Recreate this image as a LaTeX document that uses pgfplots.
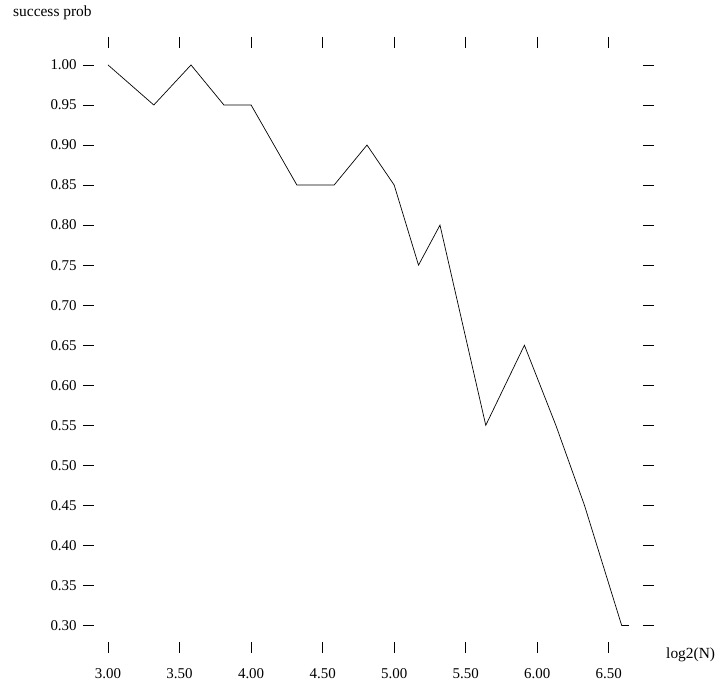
\documentclass[border=0pt]{standalone}
\usepackage{fontspec}
\setmainfont{Liberation Serif}
\usepackage{pgfplots}
\pgfplotsset{compat=1.18}
\begin{document}
\fontsize{15.5}{18}\selectfont
\begin{tikzpicture}[x=1bp,y=1bp]
\path[use as bounding box] (0,0) rectangle (722,683);
\begin{axis}[
  at={(94bp,41bp)}, anchor=south west,
  width=549bp, height=594bp, scale only axis,
  xmin=2.902, xmax=6.739,
  ymin=0.2794, ymax=1.0212,
  axis line style={draw=none},
  tick align=outside,
  major tick length=11bp,
  tick style={black, line width=0.8pt},
  xtick={3,3.5,4,4.5,5,5.5,6,6.5},
  ytick={0.30,0.35,0.40,0.45,0.50,0.55,0.60,0.65,0.70,0.75,0.80,0.85,0.90,0.95,1.00},
  xtick pos=both, ytick pos=both,
  /pgf/number format/assume math mode=true,
  /pgf/number format/.cd, fixed, fixed zerofill, precision=2,
  /pgfplots/.cd,
  ticklabel style={font=\fontsize{15}{18}\selectfont},
  xticklabel style={yshift=-10bp},
  yticklabel style={xshift=-1bp},
  clip=false,
]
\addplot[black, line width=0.7pt] coordinates {
 (3.00,1.00) (3.32,0.95) (3.58,1.00) (3.81,0.95) (4.00,0.95)
 (4.32,0.85) (4.58,0.85) (4.81,0.90) (5.00,0.85) (5.17,0.75)
 (5.32,0.80) (5.64,0.55) (5.91,0.65) (6.13,0.55) (6.33,0.45)
 (6.59,0.30) (6.64,0.30)
};
\end{axis}
\node[anchor=west, inner sep=0] at (13,670) {success prob};
\node[anchor=west, inner sep=0] at (666,28) {log2(N)};
\end{tikzpicture}
\end{document}
